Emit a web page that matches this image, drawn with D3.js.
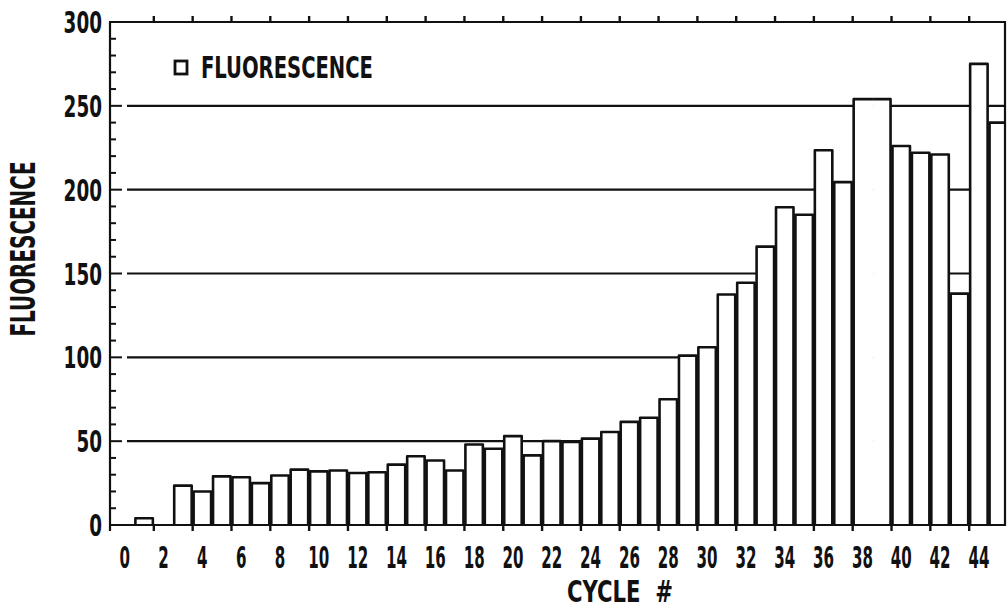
<!DOCTYPE html>
<html>
<head>
<meta charset="utf-8">
<script src="https://cdn.jsdelivr.net/npm/d3@7"></script>
<style>
  body { margin: 0; background: #fff; }
  text { font-family: "Liberation Sans Narrow", "DejaVu Sans Condensed", "Arial Narrow", sans-serif; font-weight: bold; fill: #111; }
</style>
</head>
<body>
<div id="chart"></div>
<script>
// cycle numbers and fluorescence readings
const cycles = d3.range(0, 46)
const fluorescence = [0, 4, 0, 23.5, 20, 29, 28.5, 25, 29.5, 33,
  32, 32.5, 31, 31.5, 36, 41, 38.5, 32.5, 48, 45.5,
  53, 41.5, 50, 49.5, 51.5, 55.5, 61.5, 64, 75, 101,
  106, 137.5, 144.5, 166, 189.5, 185, 223.5, 204.5, 254, 254,
  226, 222, 221, 138, 275, 240]
const xTickLabels = d3.range(0, 45, 2)
const yTicks = d3.range(0, 301, 10)
const yGrid = [50, 100, 150, 200, 250]
const yLabels = [0, 50, 100, 150, 200, 250, 300]

var width = 1008, height = 611,
  plotLeft = 110, plotRight = 1005, plotTop = 22, plotBottom = 525;

var svg = d3.select("#chart").append("svg")
  .attr("width", width)
  .attr("height", height);

var x = d3.scaleBand()
  .domain(cycles)
  .range([115, 1008])
  .paddingInner(0.1)
  .paddingOuter(0.05);

var y = d3.scaleLinear()
  .domain([0, 300])
  .range([plotBottom, plotTop]);

svg.append("clipPath").attr("id", "plot")
  .append("rect")
  .attr("x", plotLeft).attr("y", plotTop - 2)
  .attr("width", plotRight - plotLeft).attr("height", plotBottom - plotTop + 4);

// gridlines (behind the bars)
svg.append("g").selectAll("line")
  .data(yGrid)
  .enter().append("line")
  .attr("x1", plotLeft + 17).attr("x2", plotRight)
  .attr("y1", d => y(d)).attr("y2", d => y(d))
  .style("stroke", "#111").style("stroke-width", 2.2);

// bars: neighbours with identical readings are drawn as one block
const bars = cycles.map((c, i) => ({
  c: c, v: fluorescence[i],
  joinPrev: i > 0 && fluorescence[i - 1] === fluorescence[i] && fluorescence[i] > 0,
  joinNext: i < cycles.length - 1 && fluorescence[i + 1] === fluorescence[i] && fluorescence[i] > 0
}));

const barG = svg.append("g").attr("clip-path", "url(#plot)");

barG.selectAll(".fill")
  .data(bars.filter(d => d.v > 0))
  .enter().append("rect")
  .attr("class", "fill")
  .attr("x", d => x(d.c))
  .attr("y", d => y(d.v))
  .attr("width", d => d.joinNext ? x(d.c + 1) - x(d.c) : x.bandwidth())
  .attr("height", d => y(0) - y(d.v))
  .style("fill", "#fff");

barG.selectAll(".bar")
  .data(bars.filter(d => d.v > 0))
  .enter().append("path")
  .attr("class", "bar")
  .attr("d", d => {
    var x0 = x(d.c),
      x1 = d.joinNext ? x(d.c + 1) : x0 + x.bandwidth(),
      yt = y(d.v), yb = y(0);
    var p = d.joinPrev ? "M" + x0 + "," + yt : "M" + x0 + "," + yb + "V" + yt;
    p += "H" + x1;
    if (!d.joinNext) p += "V" + yb;
    return p;
  })
  .style("fill", "none")
  .style("stroke", "#111")
  .style("stroke-width", 2.6)
  .style("stroke-linejoin", "round");

// frame
svg.append("path")
  .attr("d", "M" + plotLeft + "," + (plotBottom + 6) + "V" + plotTop + "H" + plotRight + "V" + plotBottom + "H" + plotLeft)
  .style("fill", "none").style("stroke", "#111").style("stroke-width", 2.2);

// y ticks pointing inwards
svg.append("g").selectAll("line")
  .data(yTicks)
  .enter().append("line")
  .attr("x1", plotLeft)
  .attr("x2", d => d % 50 === 0 ? plotLeft + 12 : plotLeft + 6)
  .attr("y1", d => y(d)).attr("y2", d => y(d))
  .style("stroke", "#111").style("stroke-width", 2);

svg.append("g").selectAll("text")
  .data(yLabels)
  .enter().append("text")
  .attr("x", plotLeft - 8)
  .attr("y", d => y(d))
  .attr("dy", "0.36em")
  .attr("text-anchor", "end")
  .attr("font-size", 31)
  .attr("textLength", d => String(d).length * 12.8)
  .attr("lengthAdjust", "spacingAndGlyphs")
  .text(d => d);

// x ticks sit on the slot boundary left of every even cycle
const boundary = c => x(c) - (x.step() - x.bandwidth()) / 2;
const xBoundaries = xTickLabels.filter(c => c > 0);

svg.append("g").selectAll("line")
  .data(xBoundaries)
  .enter().append("line")
  .attr("x1", d => boundary(d)).attr("x2", d => boundary(d))
  .attr("y1", plotBottom).attr("y2", plotBottom + 6)
  .style("stroke", "#111").style("stroke-width", 2.4);

svg.append("g").selectAll("line")
  .data(xBoundaries)
  .enter().append("line")
  .attr("x1", d => boundary(d)).attr("x2", d => boundary(d))
  .attr("y1", plotTop).attr("y2", plotTop - 6)
  .style("stroke", "#111").style("stroke-width", 2.4);

svg.append("g").selectAll("text")
  .data(xTickLabels)
  .enter().append("text")
  .attr("x", d => x(d) + x.bandwidth() / 2)
  .attr("y", 568)
  .attr("text-anchor", "middle")
  .attr("font-size", 30)
  .attr("textLength", d => String(d).length * 10.5)
  .attr("lengthAdjust", "spacingAndGlyphs")
  .text(d => d);

// axis titles
svg.append("text")
  .attr("x", 567).attr("y", 602)
  .attr("font-size", 30)
  .attr("textLength", 106)
  .attr("lengthAdjust", "spacingAndGlyphs")
  .text("CYCLE\u00a0\u00a0#");

svg.append("text")
  .attr("transform", "translate(35,249) rotate(-90)")
  .attr("text-anchor", "middle")
  .attr("font-size", 34)
  .attr("textLength", 175)
  .attr("lengthAdjust", "spacingAndGlyphs")
  .text("FLUORESCENCE");

// legend
svg.append("rect")
  .attr("x", 175).attr("y", 61)
  .attr("width", 12).attr("height", 13)
  .style("fill", "#fff").style("stroke", "#111").style("stroke-width", 2.8);
svg.append("text")
  .attr("x", 201).attr("y", 78)
  .attr("font-size", 30)
  .attr("textLength", 172)
  .attr("lengthAdjust", "spacingAndGlyphs")
  .text("FLUORESCENCE");
</script>
</body>
</html>
